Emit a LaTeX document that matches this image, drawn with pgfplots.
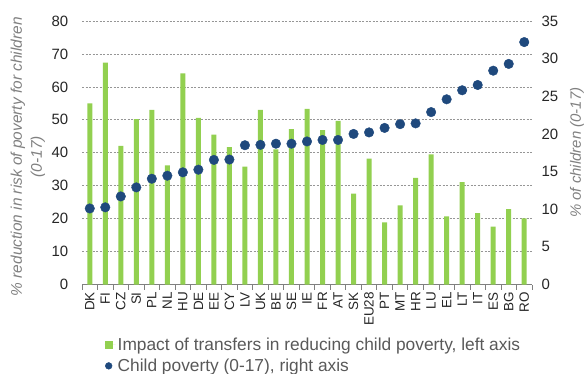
\documentclass[border=0pt]{standalone}
\usepackage{pgfplots}
\pgfplotsset{compat=1.18}
\usepackage{pgfplotstable}
\usepackage{fontspec}
\setmainfont{Liberation Sans}

\definecolor{barg}{RGB}{146,208,80}
\definecolor{dotb}{RGB}{31,73,125}
\definecolor{txt}{RGB}{38,38,38}
\definecolor{lbl}{RGB}{128,128,128}
\definecolor{leg}{RGB}{89,89,89}
\definecolor{gridc}{RGB}{150,150,150}

% idx, country, impact of transfers (left axis), child poverty (right axis)
\pgfplotstableread{
idx cc   bar  dot
0   DK   55.0 10.1
1   FI   67.4 10.25
2   CZ   42.1 11.7
3   SI   50.2 12.9
4   PL   53.0 14.05
5   NL   36.2 14.45
6   HU   64.1 14.9
7   DE   50.6 15.25
8   EE   45.5 16.55
9   CY   41.7 16.6
10  LV   35.8 18.5
11  UK   53.0 18.55
12  BE   41.0 18.7
13  SE   47.2 18.7
14  IE   53.3 19.0
15  FR   46.9 19.2
16  AT   49.7 19.2
17  SK   27.6 20.0
18  EU28 38.2 20.2
19  PT   18.9 20.8
20  MT   24.0 21.3
21  HR   32.4 21.4
22  LU   39.5 22.9
23  EL   20.7 24.6
24  LT   31.1 25.8
25  IT   21.7 26.5
26  ES   17.6 28.4
27  BG   22.9 29.3
28  RO   20.1 32.2
}\data

\pgfplotsset{
  base/.style={
    scale only axis, width=450bp, height=263.5bp,
    at={(0,0)}, anchor=south west,
    xmin=-0.5, xmax=28.5,
    /pgf/number format/assume math mode=true,
    ytick style={draw=none},
  },
}

\begin{document}
\begin{tikzpicture}
\begin{axis}[base, name=ax,
  ybar, bar width=5bp,
  ymin=0, ymax=80, ytick={0,10,...,80},
  yticklabel style={font=\fontsize{15}{18}\selectfont, text=txt, xshift=-6bp},
  axis x line*=bottom, axis y line*=left,
  y axis line style={draw=none},
  x axis line style={gray, line width=0.8bp},
  ymajorgrids, grid style={gridc, dash pattern=on 2bp off 1.5bp, line width=0.7bp},
  xtick={0,...,28}, xticklabels from table={\data}{cc},
  major x tick style={draw=none},
  minor xtick={-0.5,0.5,...,28.5},
  minor x tick style={gray, line width=0.8bp},
  minor tick length=5bp, tick align=outside,
  xticklabel style={rotate=90, anchor=east, font=\fontsize{13.5}{15}\selectfont, text=txt},
  every axis y label/.style={at={(axis description cs:0,0.5)}, anchor=center,
     rotate=90, yshift=64bp, xshift=-4bp,
     font=\itshape\fontsize{15.5}{19}\selectfont, text=lbl},
  ylabel={\% reduction in risk of poverty for children},
  legend style={at={(axis description cs:0.05,-0.194)}, anchor=north west,
     draw=none, fill=none, font=\fontsize{17.4}{20}\selectfont, text=leg,
     inner sep=0pt, row sep=3bp},
  legend cell align=left,
  clip=false,
]
\addplot[fill=barg, draw=none,
  legend image code/.code={\fill[barg] (0bp,-4bp) rectangle (8bp,4bp);
                           \path[draw=none] (0bp,0bp) -- (11bp,0bp);}]
  table[x=idx, y=bar]{\data};
\addlegendentry{Impact of transfers in reducing child poverty, left axis}
\addlegendimage{legend image code/.code={\fill[dotb] (4bp,0bp) circle (3.4bp);
                                         \path[draw=none] (0bp,0bp) -- (11bp,0bp);}}
\addlegendentry{Child poverty (0-17), right axis}
% second line of the left axis title
\node[xshift=-44bp, yshift=-4bp, rotate=90, anchor=center,
      font=\itshape\fontsize{15.5}{19}\selectfont, text=lbl]
  at (rel axis cs:0,0.5) {(0-17)};
\end{axis}

\begin{axis}[base,
  ymin=0, ymax=35, ytick={0,5,...,35},
  yticklabel style={font=\fontsize{15}{18}\selectfont, text=txt, xshift=6bp},
  axis y line*=right, axis x line=none,
  y axis line style={draw=none},
  every axis y label/.style={at={(axis description cs:1,0.5)}, anchor=center,
     rotate=90, yshift=-45bp,
     font=\itshape\fontsize{15}{18}\selectfont, text=lbl},
  ylabel={\% of children (0-17)},
]
\addplot[only marks, mark=*, mark size=4.8pt, color=dotb]
  table[x=idx, y=dot]{\data};
\end{axis}

\pgfresetboundingbox
\path[use as bounding box] (-82bp,-89.5bp) rectangle (505bp,284.5bp);
\end{tikzpicture}
\end{document}
